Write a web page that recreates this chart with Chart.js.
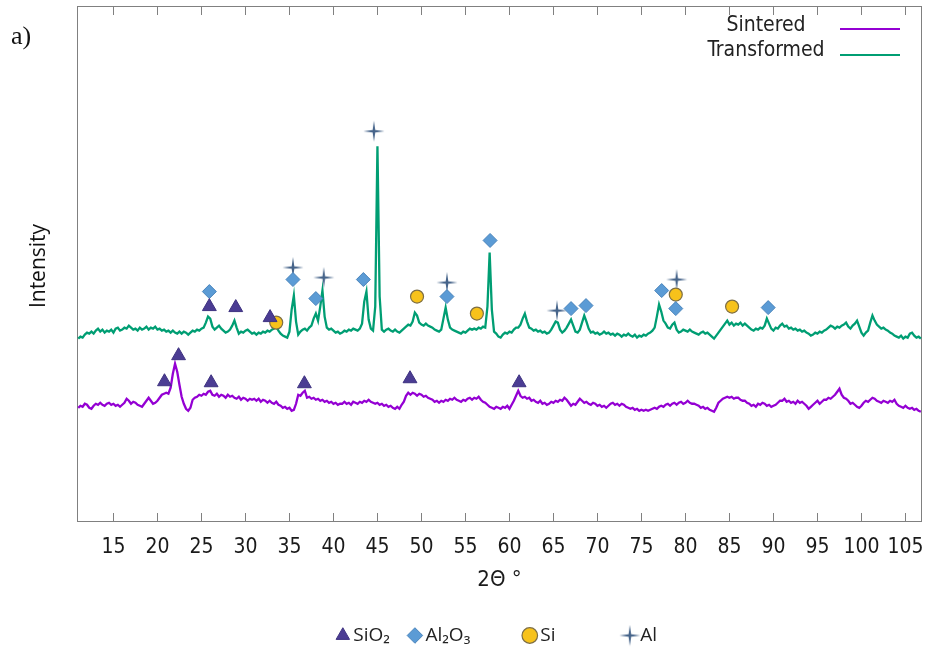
<!DOCTYPE html>
<html>
<head>
<meta charset="utf-8">
<script src="https://cdn.jsdelivr.net/npm/chart.js@4.4.1/dist/chart.umd.min.js"></script>
<style>
  html,body{margin:0;padding:0;background:#fff;}
  #wrap{width:940px;height:656px;}
</style>
</head>
<body>
<div id="wrap"><canvas id="xrd" width="940" height="656"></canvas></div>
<script>
// scan: 2theta from 11 deg, step 0.25 deg
var scanStart=11, scanStep=0.25;
var xTicks=[15,20,25,30,35,40,45,50,55,60,65,70,75,80,85,90,95,100,105];

var transformed=[
  183,185,184,187,189,188,190,188,191,193,190,192,189,191,190,192,189,193,194,191,
  192,194,193,196,194,192,193,191,194,192,193,195,192,194,193,195,192,193,191,192,
  190,191,189,191,189,188,190,188,190,189,187,189,191,190,192,191,193,194,199,205,
  203,195,192,194,196,193,191,189,190,192,196,201,194,188,190,189,191,192,190,188,
  189,187,189,188,190,189,191,190,192,193,195,191,188,186,185,184,190,212,226,200,
  187,190,192,193,191,194,196,203,208,201,215,231,205,194,192,193,191,189,190,188,
  189,191,190,192,191,193,192,191,193,198,220,230,202,193,191,215,375,225,192,190,
  192,193,191,190,192,190,189,191,193,195,197,196,200,209,206,199,197,196,198,196,
  195,194,192,191,190,192,203,214,202,194,192,191,190,189,188,190,189,191,193,192,
  193,192,194,193,195,194,215,269,212,190,188,185,184,187,189,188,190,189,192,194,
  194,197,203,208,200,194,193,191,192,190,191,189,190,188,189,192,196,200,199,192,
  189,191,194,198,202,196,190,189,192,199,206,200,193,189,190,188,189,187,188,190,
  188,189,187,188,186,188,187,185,187,186,188,186,185,187,184,186,185,187,186,188,
  189,191,194,205,217,210,201,198,194,193,197,199,192,189,190,192,191,190,192,190,
  189,188,187,189,190,188,189,187,185,183,186,189,192,195,198,201,197,199,196,198,
  197,199,196,198,196,194,192,191,193,192,194,193,196,203,198,193,191,194,193,196,
  198,195,196,193,194,192,193,191,192,190,191,189,188,186,187,189,188,190,189,191,
  192,194,196,195,193,195,194,196,197,199,195,193,196,198,201,195,189,186,189,191,
  199,206,201,197,195,193,194,192,191,189,188,186,185,184,186,183,185,184,188,189,
  186,184,185,183
];

var sintered=[
  114,116,115,118,117,114,113,116,118,117,119,117,116,118,119,117,118,116,117,115,
  117,119,123,121,118,120,119,117,116,115,118,121,124,121,118,119,121,124,127,128,
  129,128,134,148,158,150,137,125,118,113,111,114,122,124,125,127,126,128,127,130,
  131,127,126,128,125,127,126,124,127,125,126,124,123,125,122,124,123,121,123,122,
  123,121,123,120,122,121,119,121,119,118,120,117,116,114,115,113,114,111,112,118,
  127,126,129,131,124,125,123,124,122,123,121,122,120,121,119,120,118,119,117,118,
  118,120,118,119,117,120,119,118,120,119,121,120,122,120,119,118,119,117,118,116,
  117,115,116,114,113,115,113,117,120,126,129,127,129,128,126,128,127,125,126,124,
  123,122,120,121,119,121,120,122,121,123,122,124,122,121,120,122,121,123,124,122,
  124,123,125,122,120,119,117,115,114,113,115,114,113,115,114,116,113,117,121,126,
  131,126,124,125,123,124,121,122,120,119,121,118,119,117,118,120,119,121,120,122,
  121,124,122,119,116,118,117,120,123,121,119,120,118,117,119,118,116,117,115,116,
  114,116,118,119,117,118,116,118,117,115,114,113,114,112,113,111,112,111,112,111,
  112,113,114,113,115,116,115,117,118,116,118,119,117,119,120,118,119,121,119,118,
  118,117,116,114,115,113,114,112,111,110,114,119,121,123,124,125,124,125,123,124,
  124,122,121,121,119,118,116,117,115,118,117,119,118,116,117,115,116,117,119,121,
  121,123,120,121,119,120,118,121,119,120,118,116,113,115,117,119,121,118,120,122,
  122,124,123,125,127,130,133,127,124,123,121,118,119,117,115,114,116,119,121,120,
  122,124,123,121,120,119,121,120,119,121,120,122,118,116,115,114,116,114,113,114,
  112,113,111,110
];

// phase markers: [2theta, intensity]
var sio2Peaks=[[20.8,140],[22.4,166],[25.9,215],[26.1,139],[28.9,214],[32.8,204],[36.7,138],[48.7,143],[61.1,139]];
var al2o3Peaks=[[25.9,230],[35.4,242],[38.0,223],[43.4,242],[52.9,225],[57.8,281],[67.0,213],[68.7,216],[77.3,231],[78.9,213],[89.4,214]];
var siPeaks=[[33.5,199],[49.5,225],[56.3,208],[78.9,227],[85.3,215]];
var alPeaks=[[35.4,254],[38.9,244],[44.6,390],[52.9,239],[65.4,211],[79.0,242]];

function toXY(arr){
  return arr.map(function(v,i){return {x:scanStart+i*scanStep,y:v};});
}
function toPts(arr){
  return arr.map(function(p){return {x:p[0],y:p[1]};});
}

// 4-point star for Al
var starImg=document.createElement('canvas');
starImg.width=22;starImg.height=22;
(function(){
  var c=starImg.getContext('2d');
  c.fillStyle='#46648a';
  c.beginPath();
  c.moveTo(11,0.5);c.lineTo(12.3,9.7);c.lineTo(21.5,11);c.lineTo(12.3,12.3);
  c.lineTo(11,21.5);c.lineTo(9.7,12.3);c.lineTo(0.5,11);c.lineTo(9.7,9.7);
  c.closePath();c.fill();
})();

var decorations={
  id:'decorations',
  beforeDatasetsDraw:function(chart){
    var ctx=chart.ctx,a=chart.chartArea,x=chart.scales.x;
    ctx.save();
    ctx.strokeStyle='#808080';
    ctx.lineWidth=1;
    ctx.strokeRect(a.left+0.5,a.top+0.5,a.right-a.left-1,a.bottom-a.top-1);
    ctx.beginPath();
    x.ticks.forEach(function(t){
      var px=Math.round(x.getPixelForValue(t.value))+0.5;
      ctx.moveTo(px,a.bottom);ctx.lineTo(px,a.bottom-9);
      ctx.moveTo(px,a.top);ctx.lineTo(px,a.top+9);
    });
    ctx.stroke();
    ctx.restore();
  },
  afterDraw:function(chart){
    var ctx=chart.ctx;
    ctx.save();
    ctx.fillStyle='#111';
    ctx.font='26px "Liberation Serif"';
    ctx.textAlign='left';ctx.textBaseline='middle';
    ctx.fillText('a)',11,37);

    ctx.font='21px "Open Sans"';
    ctx.textAlign='center';
    ctx.translate(39,266);ctx.rotate(-Math.PI/2);
    ctx.fillText('Intensity',0,0);
    ctx.setTransform(1,0,0,1,0,0);

    // line key, top right
    var keys=[[chart.data.datasets[0],26,29],[chart.data.datasets[1],51,55]];
    ctx.font='21px "DejaVu Sans Condensed"';
    ctx.textAlign='center';
    keys.forEach(function(k){
      ctx.fillStyle='#222';
      ctx.fillText(k[0].label,766,k[1]);
      ctx.strokeStyle=k[0].borderColor;ctx.lineWidth=2.2;
      ctx.beginPath();ctx.moveTo(840,k[2]);ctx.lineTo(900,k[2]);ctx.stroke();
    });
    ctx.restore();
  }
};

new Chart(document.getElementById('xrd'),{
  type:'scatter',
  data:{
    datasets:[
      {label:'Sintered',data:toXY(sintered),showLine:true,borderColor:'#9400d3',borderWidth:2.3,pointRadius:0,order:3},
      {label:'Transformed',data:toXY(transformed),showLine:true,borderColor:'#009e73',borderWidth:2.3,pointRadius:0,order:2},
      {label:'SiO₂',data:toPts(sio2Peaks),pointStyle:'triangle',pointRadius:8,backgroundColor:'#4b3c93',borderColor:'#3e3280',borderWidth:1,order:1},
      {label:'Al₂O₃       ',data:toPts(al2o3Peaks),pointStyle:'rectRot',pointRadius:7,backgroundColor:'#5b9bd5',borderColor:'#4a84bb',borderWidth:1,order:1},
      {label:'Si          ',data:toPts(siPeaks),pointStyle:'circle',pointRadius:6.5,backgroundColor:'#f7c21b',borderColor:'#7d6e45',borderWidth:1.2,order:1},
      {label:'Al',data:toPts(alPeaks),pointStyle:starImg,order:1}
    ]
  },
  plugins:[decorations],
  options:{
    responsive:false,
    animation:false,
    layout:{autoPadding:false,padding:{left:77,right:18,top:6,bottom:1}},
    plugins:{
      tooltip:{enabled:false},
      legend:{
        position:'bottom',
        labels:{
          filter:function(item){return item.datasetIndex>=2;},
          usePointStyle:true,
          boxWidth:2,
          boxHeight:11,
          padding:24,
          color:'#222',
          font:{family:'"Open Sans"',size:19}
        }
      }
    },
    scales:{
      x:{
        type:'linear',
        min:10.86,max:106.88,
        afterBuildTicks:function(s){s.ticks=xTicks.map(function(v){return {value:v};});},
        afterFit:function(s){s.height=80;},
        grid:{display:false,drawTicks:false},
        border:{display:false},
        ticks:{
          autoSkip:false,maxRotation:0,padding:13,color:'#1a1a1a',
          font:{family:'"DejaVu Sans Condensed"',size:21}
        },
        title:{display:true,text:'2Θ °',color:'#1a1a1a',
          font:{family:'"DejaVu Sans Condensed"',size:22,lineHeight:'36px'}}
      },
      y:{display:false,min:0,max:515}
    }
  }
});
</script>
</body>
</html>
